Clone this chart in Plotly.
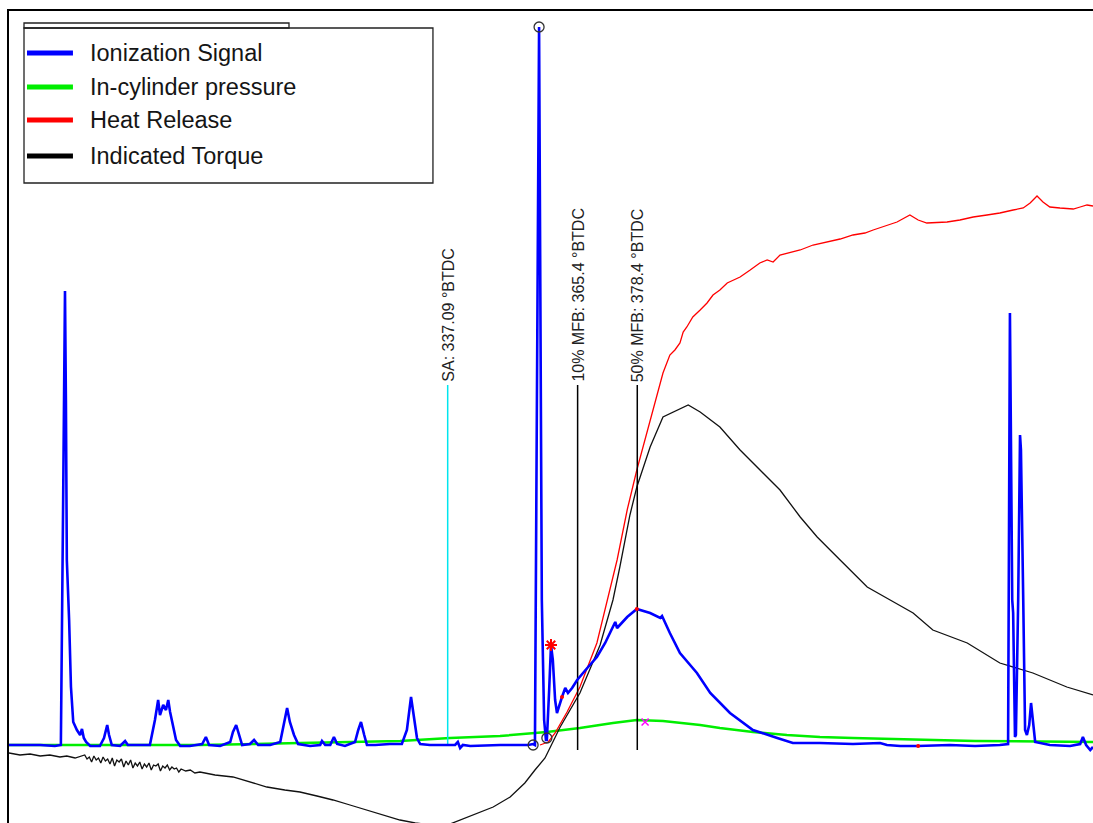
import plotly.graph_objects as go

# ---- data (crank angle in degrees, signals in arbitrary units) ----
ion_deg = [241.5, 248.3, 251.5, 252.8, 253.3, 253.7, 253.9, 254.1, 254.6, 255.0, 255.5, 256.3, 257.0, 257.4, 257.8, 258.3,
           259.2, 261.3, 262.2, 262.9, 263.3, 263.9, 265.7, 266.8, 267.4, 272.2, 273.3, 274.0, 274.4, 275.1, 275.7, 276.2,
           276.6, 277.2, 277.9, 278.8, 280.9, 283.6, 284.4, 285.1, 287.5, 289.7, 290.3, 291.0, 291.6, 292.3, 294.0, 294.9,
           295.8, 298.4, 300.6, 301.4, 302.1, 302.7, 303.6, 304.5, 307.1, 309.3, 309.7, 310.4, 311.5, 312.3, 313.0, 314.7,
           316.9, 317.6, 318.2, 318.9, 319.5, 321.3, 324.5, 327.1, 328.2, 329.1, 329.8, 330.4, 331.1, 333.2, 338.7, 339.3,
           339.8, 340.4, 342.0, 348.5, 354.6, 355.7, 356.1, 357.0, 357.6, 358.1, 358.5, 358.7, 359.2, 359.6, 360.0, 360.5,
           360.9, 361.4, 362.0, 362.7, 363.3, 364.2, 365.3, 367.5, 369.6, 371.4, 373.1, 373.6, 374.0, 374.6, 376.2, 378.3,
           381.2, 383.4, 383.8, 385.5, 387.7, 391.4, 394.3, 398.6, 403.6, 408.9, 412.3, 418.2, 425.4, 431.3, 432.8, 435.7,
           439.6, 446.5, 452.0, 457.4, 459.2, 459.6, 460.1, 460.3, 460.5, 460.7, 460.9, 461.4, 461.8, 462.0, 462.5, 462.9,
           463.3, 463.8, 464.2, 464.6, 465.1, 468.3, 472.7, 474.9, 475.5, 476.2, 477.1, 477.7]
ion_val = [0, 0, -1, 0, 245, 454, 345, 185, 125, 58, 23, 15, 10, 16, 7, 3,
           -1, -1, 7, 20, 10, 0, -1, 4, 0, 0, 25, 45, 30, 40, 35, 45,
           33, 20, 5, -1, -1, 1, 8, 0, -1, 3, 13, 20, 10, 0, 1, 5,
           0, 0, 3, 20, 37, 23, 10, 1, -1, 0, 4, 0, 0, 8, 1, -1,
           3, 15, 23, 10, 0, 0, 1, 1, 15, 48, 27, 7, 1, 0, 0, 3,
           -3, 0, -1, 0, 0, 1, 0, 718, 145, 25, 5, 5, 55, 100, 85, 45,
           32, 40, 48, 57, 52, 57, 65, 77, 88, 102, 118, 123, 117, 120, 128, 136,
           132, 127, 129, 112, 92, 72, 52, 32, 15, 7, 2, 2, 1, 2, 0, -1,
           -1, 0, -1, 0, 1, 432, 145, 132, 45, 8, 10, 145, 310, 295, 145, 15,
           10, 20, 42, 25, 3, 0, -1, 1, 8, 0, -5, -2]

pres_deg = [241.5, 261.3, 283.1, 304.9, 326.7, 337.6, 348.5, 358.7, 365.9, 373.1, 378.3, 384.0, 392.1, 396.4, 403.6,
            411.0, 418.2, 425.4, 439.6, 452.0, 477.7]
pres_val = [0, 0, 0, 2, 4, 7, 9, 13, 17, 22, 25, 24, 20, 17, 13, 10, 8, 7, 5, 4, 3]

heat_deg = [357.2, 359.0, 360.5, 363.1, 365.9, 369.6, 374.0, 376.2, 378.3, 380.5, 382.7, 384.0, 385.5, 386.6, 387.7,
            388.4, 389.2, 390.5, 392.1, 393.6, 394.9, 396.4, 398.0, 399.3, 400.8, 403.0, 405.1, 406.7, 408.0, 409.5,
            413.9, 416.7, 419.8, 422.6, 425.4, 428.0, 429.8, 432.8, 435.0, 437.8, 439.6, 441.5, 445.9, 448.7, 451.6,
            454.6, 457.4, 460.3, 462.5, 464.0, 465.5, 466.8, 468.3, 470.5, 473.4, 474.9, 476.4, 477.7]
heat_val = [0, 3, 12, 33, 58, 102, 185, 235, 275, 312, 348, 372, 390, 395, 402,
            413, 418, 428, 435, 442, 450, 455, 462, 465, 468, 475, 482, 485, 483, 490,
            495, 500, 503, 506, 510, 512, 515, 520, 523, 530, 525, 522, 523, 525, 528,
            530, 532, 535, 537, 542, 549, 543, 538, 537, 536, 538, 540, 539]

torq_deg = [241.5, 243.9, 246.1, 248.3, 250.4, 252.6, 254.1, 255.9,
            258.0, 258.5, 259.0, 259.5, 260.0, 260.5, 261.0, 261.5, 262.0, 262.5, 263.0, 263.5, 264.0, 264.5,
            265.0, 265.5, 266.0, 266.5, 267.0, 267.5, 268.0, 268.5, 269.0, 269.5, 270.0, 270.5, 271.0, 271.5,
            272.0, 272.5, 273.0, 273.5, 274.0, 274.5, 275.0, 275.5, 276.0, 276.5, 277.0, 277.5, 278.0, 278.5,
            279.0, 280.0, 281.0, 282.0, 283.1, 286.4, 290.3, 294.0,
            297.7, 301.6, 304.9, 308.6, 312.1, 315.8, 319.5, 323.4, 326.7, 330.0, 333.9, 337.6, 341.3, 344.1, 347.0,
            350.7, 353.9, 356.1, 358.3, 361.6, 365.9, 370.3, 373.1, 374.6, 376.8, 378.3, 381.2, 384.0, 387.1, 389.5,
            392.1, 396.4, 400.8, 405.1, 409.5, 413.9, 417.6, 422.6, 428.5, 433.5, 438.5, 442.8, 450.3, 457.4, 464.6,
            472.0, 477.7]
torq_val = [-8, -10, -9, -11, -10, -12, -11, -13,
            -10, -14, -12, -17, -11, -15, -13, -18, -12, -16, -14, -19, -13, -21,
            -15, -17, -14, -22, -16, -20, -15, -23, -18, -21, -17, -24, -19, -22,
            -18, -25, -20, -21, -19, -26, -21, -23, -20, -25, -22, -24, -23, -27,
            -24, -26, -25, -28, -27, -30, -32, -37,
            -42, -45, -47, -51, -55, -60, -65, -70, -75, -78, -80, -79, -72, -67, -62,
            -52, -38, -25, -13, 18, 52, 100, 145, 178, 230, 258, 298, 328, 335, 340,
            333, 318, 295, 275, 255, 228, 208, 185, 158, 145, 132, 115, 102, 82, 72,
            58, 50]

# event markers (crank angle, label)
event_deg = [337.09, 365.4, 378.4]
event_lbl = ["SA: 337.09 °BTDC", "10% MFB: 365.4 °BTDC", "50% MFB: 378.4 °BTDC"]
event_col = ["#00e5ee", "black", "black"]
event_top = 360
event_bot = [0, -5, -5]

circle_deg = [357.0, 355.7, 358.7]
circle_val = [718, 0, 7]
star_deg, star_val = [359.6], [100]
dot_deg, dot_val = [362.0, 378.3, 439.6], [48, 136, -1]
cross_deg, cross_val = [380.1], [23]

legend_names = ["Ionization Signal", "In-cylinder pressure", "Heat Release", "Indicated Torque"]
legend_cols = ["#0000ff", "#00ee00", "#ff0000", "#000000"]
legend_rows_y = [0.9483, 0.9064, 0.8658, 0.8214]   # paper positions of the legend rows

fig = go.Figure()

fig.add_trace(go.Scatter(x=pres_deg, y=pres_val, mode="lines", name=legend_names[1],
                         line=dict(color="#00ee00", width=2.5), showlegend=False))
fig.add_trace(go.Scatter(x=torq_deg, y=torq_val, mode="lines", name=legend_names[3],
                         line=dict(color="#111111", width=1.3), showlegend=False))
fig.add_trace(go.Scatter(x=heat_deg, y=heat_val, mode="lines", name=legend_names[2],
                         line=dict(color="#ff0000", width=1.3), showlegend=False))
for d, c, b in zip(event_deg, event_col, event_bot):
    fig.add_trace(go.Scatter(x=[d, d], y=[b, event_top], mode="lines", line=dict(color=c, width=1.5), showlegend=False))
fig.add_trace(go.Scatter(x=ion_deg, y=ion_val, mode="lines", name=legend_names[0],
                         line=dict(color="#0000ff", width=2.6), showlegend=False))

fig.add_trace(go.Scatter(x=circle_deg, y=circle_val, mode="markers",
                         marker=dict(symbol="circle-open", size=10, color="#333333", line=dict(width=1.3)), showlegend=False))
fig.add_trace(go.Scatter(x=star_deg, y=star_val, mode="markers",
                         marker=dict(symbol="asterisk-open", size=10, color="red", line=dict(width=2, color="red")), showlegend=False))
fig.add_trace(go.Scatter(x=dot_deg, y=dot_val, mode="markers",
                         marker=dict(symbol="circle", size=4, color="red"), showlegend=False))
fig.add_trace(go.Scatter(x=cross_deg, y=cross_val, mode="markers",
                         marker=dict(symbol="x-thin-open", size=7, color="magenta", line=dict(width=1.5, color="magenta")), showlegend=False))

for d, t in zip(event_deg, event_lbl):
    fig.add_annotation(x=d, y=event_top, text=t, textangle=-90, showarrow=False,
                       xanchor="center", yanchor="bottom", yshift=1,
                       font=dict(family="Liberation Sans, Arial", size=16, color="#222222"))

shapes = [
    dict(type="rect", xref="paper", yref="paper", x0=0.01384, x1=0.3911, y0=0.7882, y1=0.97906,
         line=dict(color="#222222", width=1.3), fillcolor="rgba(0,0,0,0)"),
    dict(type="rect", xref="paper", yref="paper", x0=0.01384, x1=0.2583, y0=0.97906, y1=0.98522,
         line=dict(color="#222222", width=1.3)),
]
for n, c, yy in zip(legend_names, legend_cols, legend_rows_y):
    shapes.append(dict(type="line", xref="paper", yref="paper", x0=0.0166, x1=0.0590, y0=yy, y1=yy,
                       line=dict(color=c, width=5)))
    fig.add_annotation(xref="paper", yref="paper", x=0.0729, y=yy, text=n, showarrow=False,
                       xanchor="left", yanchor="middle",
                       font=dict(family="Liberation Sans, Arial", size=23.5, color="#151515"))

fig.update_layout(
    width=1093, height=823,
    margin=dict(l=9, r=0, t=11, b=0),
    paper_bgcolor="white", plot_bgcolor="white",
    font=dict(family="Liberation Sans, Arial", color="black"),
    showlegend=False,
    xaxis=dict(range=[241.5, 477.7], side="top", showline=True, linecolor="black", linewidth=1.5,
               showticklabels=False, ticks="", showgrid=False, zeroline=False),
    yaxis=dict(range=[-78, 734], showline=True, linecolor="black", linewidth=1.5,
               showticklabels=False, ticks="", showgrid=False, zeroline=False),
    shapes=shapes,
)

fig.write_html("out.html")
